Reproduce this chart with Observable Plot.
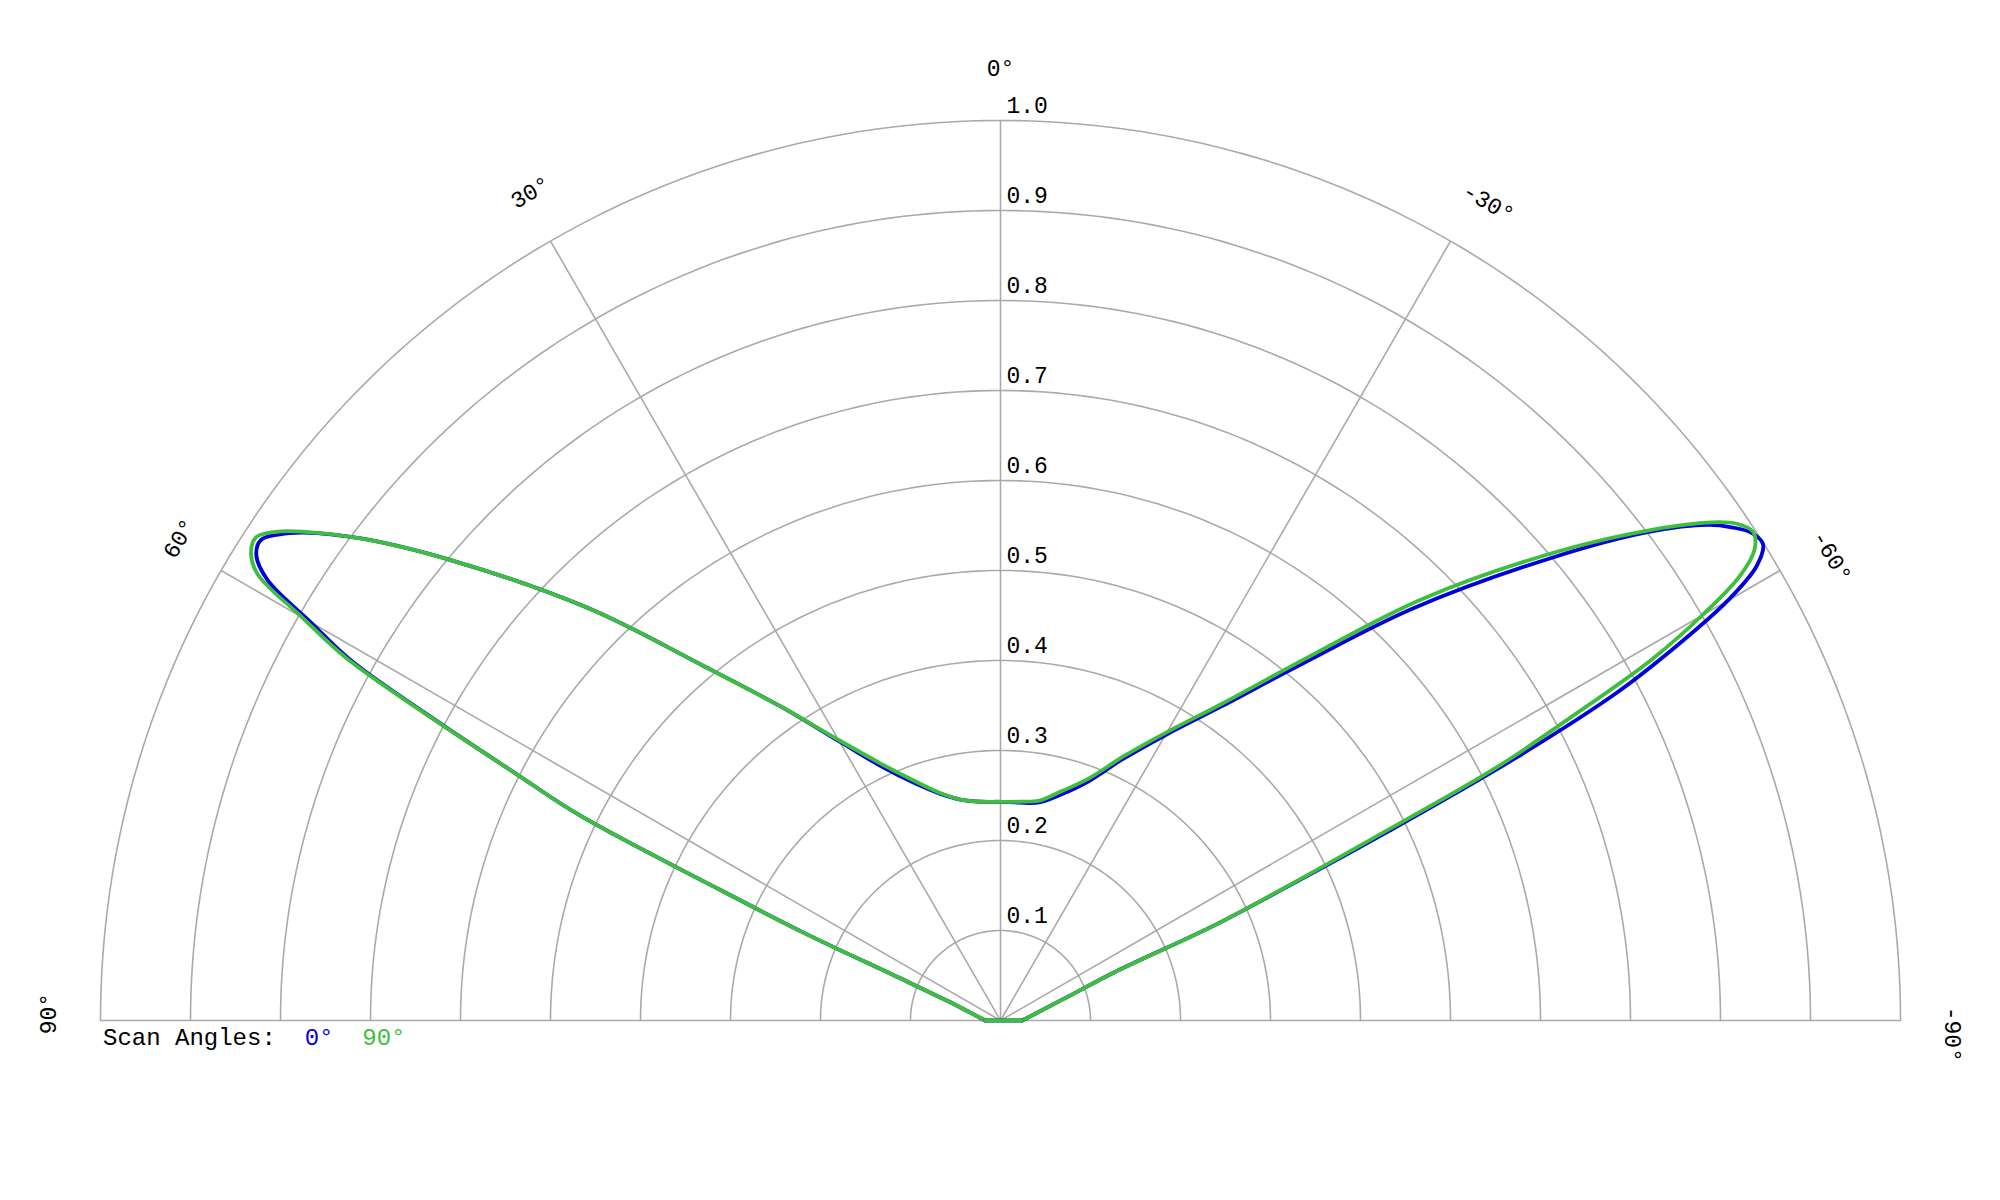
<!DOCTYPE html>
<html>
<head>
<meta charset="utf-8">
<script src="https://cdn.jsdelivr.net/npm/d3@7"></script>
<script src="https://cdn.jsdelivr.net/npm/@observablehq/plot@0.6"></script>
<style>
  html, body { margin: 0; padding: 0; background: #fff; }
  #wrap { position: relative; width: 2000px; height: 1200px; }
  #legend { position: absolute; left: 103px; top: 1027px; font-family: "Liberation Mono", "Courier New", monospace;
            font-size: 24px; line-height: 24px; white-space: pre; color: #000; }
</style>
</head>
<body>
<div id="wrap"><div id="chart"></div><div id="legend"></div></div>
<script>
// Observation angle (degrees, positive = left of broadside)
const angles = [-90,-80,-70,-67,-66,-65,-64,-63,-62,-61,-60,-59,-58,-57,-56,-55,-53,-50,-45,-40,-35,-30,-25,-20,-15,-10,-5,
                0,5,10,15,20,25,30,35,40,45,50,53,55,56,57,58,59,60,61,62,63,64,65,66,67,70,80,90];
// Normalised pattern, scan angle 0°
const r0 = [0.024,0.037,0.085,0.14,0.262,0.35,0.48,0.642,0.775,0.86,0.933,0.98,0.999,0.995,0.98,0.96,0.902,0.80,0.647,0.514,0.425,0.366,0.320,0.282,0.260,0.246,0.243,
            0.243,0.244,0.249,0.261,0.281,0.311,0.358,0.426,0.515,0.648,0.795,0.89,0.945,0.966,0.980,0.975,0.950,0.885,0.825,0.712,0.605,0.521,0.346,0.234,0.13,0.06,0.026,0.017];
// Normalised pattern, scan angle 90°
const r90 = [0.024,0.037,0.085,0.14,0.262,0.344,0.451,0.615,0.718,0.827,0.90,0.958,0.988,0.997,0.987,0.965,0.906,0.812,0.662,0.523,0.430,0.370,0.324,0.286,0.264,0.248,0.244,
             0.243,0.244,0.249,0.262,0.284,0.315,0.360,0.426,0.515,0.648,0.795,0.89,0.947,0.971,0.986,0.982,0.963,0.896,0.832,0.715,0.605,0.521,0.346,0.234,0.13,0.06,0.026,0.017];

const seriesNames = ["0°", "90°"];
const seriesColors = ["#0000dd", "#3dbf3d"];
const radialTicks = [0.1,0.2,0.3,0.4,0.5,0.6,0.7,0.8,0.9,1.0];
const radialTickLabels = ["0.1","0.2","0.3","0.4","0.5","0.6","0.7","0.8","0.9","1.0"];
const angleTicks = [90,60,30,0,-30,-60,-90];
const angleTickLabels = ["90°","60°","30°","0°","-30°","-60°","-90°"];
const legendTitle = "Scan Angles:";

const FONT = "Liberation Mono, Courier New, monospace";
const GRID = "#aaaaaa";
const rad = a => a * Math.PI / 180;
const px = (a, r) => -r * Math.sin(rad(a));
const py = (a, r) => r * Math.cos(rad(a));

// gridline semicircles
const gridPts = [];
for (const r of radialTicks) for (const a of d3.range(-90, 90.5, 1)) gridPts.push({r, a});

const series = [r0, r90];
const rows = [];
series.forEach((vals, k) => angles.forEach((a, i) => rows.push({s: seriesNames[k], a, r: vals[i]})));
// closing segment of each pattern (last sample back to first sample)
const n = angles.length;
const closers = series.map((vals, k) => ({s: seriesNames[k], a1: angles[n - 1], r1: vals[n - 1], a2: angles[0], r2: vals[0]}));

// angle labels: start-anchored, pulled back one character along the reading direction
const labelR = 1.058, back = 13.8 / 900;
const angleLab = angleTicks.map((a, i) => ({a, label: angleTickLabels[i]}));
const labX = d => px(d.a, labelR) - back * Math.cos(rad(d.a));
const labY = d => py(d.a, labelR) - back * Math.sin(rad(d.a));
const radLab = radialTicks.map((r, i) => ({r, label: radialTickLabels[i]}));

const chart = Plot.plot({
  width: 2000,
  height: 1200,
  marginLeft: 100,
  marginRight: 100,
  marginTop: 120,
  marginBottom: 180,
  x: {domain: [-1, 1], axis: null},
  y: {domain: [0, 1], axis: null},
  color: {domain: seriesNames, range: seriesColors},
  style: {fontFamily: FONT, background: "#fff"},
  marks: [
    Plot.line(gridPts, {x: d => px(d.a, d.r), y: d => py(d.a, d.r), z: "r", stroke: GRID, strokeWidth: 1.6}),
    Plot.link(angleTicks, {x1: () => 0, y1: () => 0, x2: a => px(a, 1), y2: a => py(a, 1), stroke: GRID, strokeWidth: 1.6}),
    Plot.line(rows, {x: d => px(d.a, d.r), y: d => py(d.a, d.r), z: "s", stroke: "s", strokeWidth: 3.8,
                     curve: "catmull-rom", strokeLinejoin: "round", strokeLinecap: "round"}),
    Plot.link(closers, {x1: d => px(d.a1, d.r1), y1: d => py(d.a1, d.r1), x2: d => px(d.a2, d.r2), y2: d => py(d.a2, d.r2),
                        stroke: "s", strokeWidth: 3.8, strokeLinecap: "round"}),
    Plot.text(radLab, {x: () => 0, y: "r", text: "label", dx: 6, dy: -8, textAnchor: "start", lineAnchor: "bottom",
                       fontSize: 23, fontFamily: FONT, fill: "#000"}),
    Plot.text(angleLab, {x: labX, y: labY, text: "label", rotate: d => -d.a,
                         textAnchor: "start", lineAnchor: "middle", fontSize: 23, fontFamily: FONT, fill: "#000"})
  ]
});
document.getElementById("chart").appendChild(chart);

const leg = document.getElementById("legend");
leg.appendChild(document.createTextNode(legendTitle + "  "));
seriesNames.forEach((nm, k) => {
  const sp = document.createElement("span");
  sp.style.color = seriesColors[k];
  sp.textContent = nm;
  leg.appendChild(sp);
  if (k < seriesNames.length - 1) leg.appendChild(document.createTextNode("  "));
});
</script>
</body>
</html>
